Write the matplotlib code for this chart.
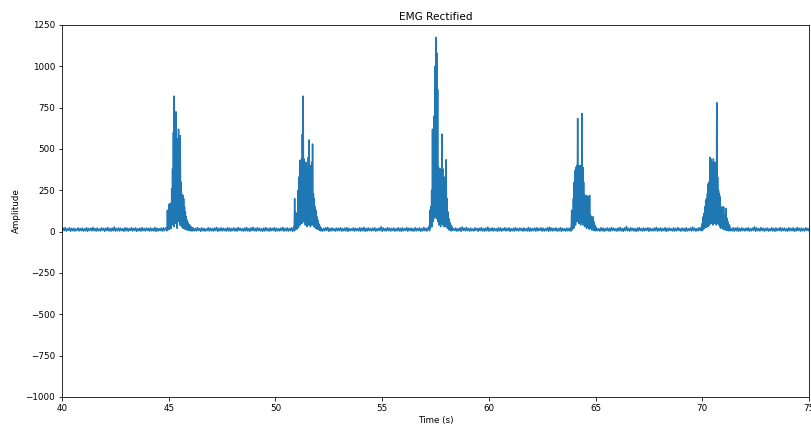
import numpy as np
import matplotlib
matplotlib.use("Agg")
import matplotlib.pyplot as plt

plt.rcParams['font.size'] = 8.7

# Resting EMG (rectified), one sample every 0.05 s from 40.0 s to 75.0 s
rest_start = 40.0
rest_step = 0.05
rest_amp = [
    4, 22, 6, 25, 3, 18, 8, 24, 2, 20, 5, 21, 3, 17, 7, 23, 4, 19, 6, 22,
    3, 18, 5, 24, 2, 20, 7, 21, 4, 26, 6, 19, 3, 22, 5, 17, 4, 23, 8, 20,
    2, 21, 6, 25, 4, 19, 3, 22, 5, 28, 3, 20, 5, 23, 4, 21, 6, 18, 2, 24,
    5, 22, 3, 19, 7, 24, 4, 20, 6, 23, 2, 18, 5, 21, 3, 25, 6, 19, 4, 22,
    7, 20, 3, 23, 5, 18, 4, 26, 2, 21, 4, 19, 6, 22, 3, 24, 5, 20, 7, 23,
    3, 21, 4, 18, 6, 25, 2, 30, 5, 22, 4, 20, 6, 23, 3, 19, 5, 24, 2, 21,
    6, 18, 3, 22, 5, 20, 4, 25, 7, 19, 2, 23, 5, 20, 3, 17, 6, 24, 4, 21,
    5, 19, 3, 22, 7, 26, 2, 20, 5, 23, 4, 21, 6, 18, 3, 24, 5, 22, 2, 19,
    6, 23, 4, 20, 3, 25, 7, 21, 5, 18, 3, 22, 5, 26, 4, 19, 2, 23, 6, 27,
    5, 20, 3, 24, 6, 21, 4, 18, 2, 22, 4, 25, 6, 19, 3, 23, 5, 20, 7, 24,
    2, 21, 5, 18, 4, 22, 6, 26, 3, 20, 5, 23, 3, 19, 6, 24, 2, 21, 4, 38,
    7, 18, 4, 23, 3, 20, 5, 25, 6, 19, 3, 22, 5, 20, 2, 24, 4, 18, 6, 23,
    4, 28, 6, 21, 3, 19, 5, 24, 7, 26, 2, 20, 4, 23, 6, 18, 3, 22, 5, 21,
    6, 24, 3, 19, 5, 22, 4, 25, 2, 20, 5, 18, 7, 23, 3, 21, 6, 19, 4, 24,
    3, 22, 5, 26, 2, 20, 4, 23, 6, 19, 4, 21, 6, 24, 3, 18, 5, 22, 7, 30,
    2, 23, 5, 19, 4, 25, 6, 21, 3, 20, 6, 22, 3, 18, 5, 24, 4, 20, 2, 23,
    5, 19, 7, 25, 3, 21, 6, 22, 4, 18, 3, 24, 5, 20, 6, 23, 2, 19, 4, 26,
    6, 21, 3, 22, 5, 18, 4, 24, 7, 20, 4, 22, 6, 25, 3, 18, 8, 24, 2, 20,
    5, 21, 3, 17, 7, 23, 4, 19, 6, 22, 3, 18, 5, 24, 2, 29, 7, 21, 4, 26,
    6, 19, 3, 22, 5, 17, 4, 23, 8, 20, 2, 21, 6, 25, 4, 19, 3, 22, 5, 28,
    3, 20, 5, 23, 4, 21, 6, 18, 2, 24, 5, 22, 3, 19, 7, 24, 4, 20, 6, 23,
    2, 18, 5, 21, 3, 25, 6, 19, 4, 22, 7, 20, 3, 23, 5, 18, 4, 26, 2, 21,
    4, 19, 6, 22, 3, 24, 5, 20, 7, 23, 3, 21, 4, 18, 6, 25, 2, 27, 5, 22,
    4, 20, 6, 23, 3, 19, 5, 24, 2, 21, 6, 18, 3, 22, 5, 20, 4, 25, 7, 19,
    2, 23, 5, 20, 3, 17, 6, 24, 4, 21, 5, 19, 3, 22, 7, 26, 2, 20, 5, 23,
    4, 21, 6, 18, 3, 24, 5, 22, 2, 19, 6, 23, 4, 20, 3, 25, 7, 21, 5, 18,
    3, 22, 5, 26, 4, 19, 2, 23, 6, 32, 5, 20, 3, 24, 6, 21, 4, 18, 2, 22,
    4, 25, 6, 19, 3, 23, 5, 20, 7, 24, 2, 21, 5, 18, 4, 22, 6, 26, 3, 20,
    5, 23, 3, 19, 6, 24, 2, 21, 4, 22, 7, 18, 4, 23, 3, 20, 5, 25, 6, 19,
    3, 22, 5, 20, 2, 24, 4, 18, 6, 23, 4, 28, 6, 21, 3, 19, 5, 24, 7, 26,
    2, 20, 4, 23, 6, 18, 3, 22, 5, 21, 6, 24, 3, 19, 5, 22, 4, 25, 2, 20,
    5, 18, 7, 23, 3, 21, 6, 19, 4, 24, 3, 22, 5, 26, 2, 20, 4, 23, 6, 19,
    4, 21, 6, 24, 3, 18, 5, 22, 7, 30, 2, 23, 5, 19, 4, 25, 6, 21, 3, 20,
    6, 22, 3, 18, 5, 24, 4, 20, 2, 23, 5, 19, 7, 25, 3, 21, 6, 22, 4, 18,
    3, 24, 5, 20, 6, 23, 2, 19, 4, 26, 6, 21, 3, 22, 5, 18, 4, 24, 7, 20,
    5,
]

# Contraction bursts, sampled every 0.02 s from each start time
burst_step = 0.02
burst_starts = [44.90, 50.86, 57.20, 63.84, 69.96]
burst_amp = [
    [25, 5, 130, 10, 90, 20, 165, 15, 170, 30, 150, 20, 260, 40, 380, 60,
     600, 30, 820, 80, 720, 50, 725, 120, 400, 20, 560, 90, 620, 60, 330, 40,
     580, 70, 300, 30, 225, 50, 220, 20, 200, 40, 150, 15, 120, 25, 90, 10,
     70, 20, 55, 8, 45, 12, 40, 5, 30, 10, 28, 4, 25, 6],
    [30, 5, 200, 10, 120, 20, 90, 15, 110, 30, 250, 25, 330, 60, 430, 40,
     380, 80, 440, 50, 590, 90, 820, 60, 440, 100, 380, 40, 420, 70, 300, 30,
     370, 60, 450, 40, 555, 80, 400, 30, 350, 60, 420, 40, 530, 50, 230, 30,
     200, 40, 150, 20, 130, 30, 90, 15, 70, 20, 50, 10, 40, 8, 30, 5],
    [30, 5, 130, 20, 150, 40, 250, 30, 620, 60, 450, 80, 700, 90, 1000, 120,
     1175, 80, 1080, 130, 860, 60, 390, 40, 320, 70, 380, 30, 300, 50, 590, 60,
     380, 40, 210, 30, 330, 50, 250, 30, 435, 40, 200, 20, 120, 25, 80, 10,
     60, 12, 45, 6, 35, 5, 28, 8],
    [25, 5, 130, 10, 120, 30, 200, 20, 300, 50, 370, 40, 390, 80, 400, 60,
     685, 90, 390, 50, 400, 70, 380, 40, 400, 60, 715, 80, 390, 40, 300, 60,
     220, 30, 200, 40, 220, 20, 120, 30, 215, 25, 130, 15, 220, 30, 100, 20,
     90, 10, 85, 15, 90, 8, 60, 10, 40, 5, 30, 6],
    [30, 5, 50, 10, 90, 15, 110, 20, 150, 30, 190, 25, 200, 40, 230, 30,
     290, 50, 300, 40, 450, 60, 440, 50, 420, 70, 390, 40, 440, 60, 300, 50,
     420, 70, 390, 40, 780, 90, 330, 50, 250, 40, 230, 30, 210, 20, 140, 30,
     150, 25, 140, 15, 150, 20, 100, 10, 90, 15, 140, 8, 80, 10, 60, 5,
     45, 8, 35, 5],
]

# merge resting samples with the bursts into one signal
rest_amp = np.array(rest_amp, dtype=float)
rest_t = rest_start + rest_step * np.arange(len(rest_amp))
keep = np.ones(len(rest_t), dtype=bool)
times = []
values = []
for t0, amp in zip(burst_starts, burst_amp):
    bt = t0 + burst_step * np.arange(len(amp))
    keep &= (rest_t < bt[0]) | (rest_t > bt[-1])
    times.append(bt)
    values.append(np.array(amp, dtype=float))
times.append(rest_t[keep])
values.append(rest_amp[keep])
t = np.concatenate(times)
emg = np.concatenate(values)
order = np.argsort(t)
t, emg = t[order], emg[order]

fig = plt.figure(figsize=(811 / 72, 427 / 72), dpi=72)
ax = fig.add_axes([62 / 811, 30 / 427, 747 / 811, 372 / 427])
ax.plot(t, emg, color='#1f77b4', linewidth=1.5)
ax.set_xlim(40, 75)
ax.set_ylim(-1000, 1250)
ax.set_yticks(np.arange(-1000, 1251, 250))
ax.set_title('EMG Rectified', fontsize=10.5, pad=5)
ax.set_xlabel('Time (s)', labelpad=3)
ax.set_ylabel('Amplitude', labelpad=4)
fig.savefig('out.png', dpi=72)
